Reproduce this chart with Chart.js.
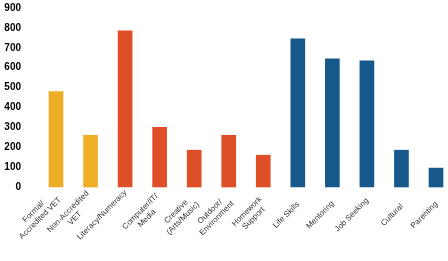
<!DOCTYPE html>
<html>
<head>
<meta charset="utf-8">
<script src="https://cdn.jsdelivr.net/npm/chart.js@4/dist/chart.umd.min.js"></script>
<style>
  html, body { margin: 0; padding: 0; background: #fff; overflow: hidden; }
  #wrap { width: 448px; height: 261px; position: relative; }
</style>
</head>
<body>
<div id="wrap"><canvas id="programChart"></canvas></div>
<script>
/* ---- data ---- */
const categories = [
  ['Formal/', 'Accredited VET'],
  ['Non-Accredited', 'VET'],
  ['Literacy/Numeracy'],
  ['Computer/IT/', 'Media'],
  ['Creative', '(Arts/Music)'],
  ['Outdoor/', 'Environment'],
  ['Homework', 'Support'],
  ['Life Skills'],
  ['Mentoring'],
  ['Job Seeking'],
  ['Cultural'],
  ['Parenting']
];
const values = [480, 260, 785, 300, 185, 260, 160, 745, 645, 635, 185, 95];
const groupOf = [0, 0, 1, 1, 1, 1, 1, 2, 2, 2, 2, 2];
const yTicks = [0, 100, 200, 300, 400, 500, 600, 700, 800, 900];

/* ---- styling ---- */
const groupColors = ['#EEAE27', '#DE4E27', '#16588B'];
const FONT = "Helvetica, Arial, 'Liberation Sans', sans-serif";

/* rotated, centred multi-line category labels */
const slantLabels = {
  id: 'slantLabels',
  afterDraw(chart) {
    const ctx = chart.ctx;
    const xs = chart.scales.x;
    const area = chart.chartArea;
    const lh = 9.5;
    ctx.save();
    ctx.font = '8px ' + FONT;
    ctx.fillStyle = '#333';
    ctx.textAlign = 'center';
    ctx.textBaseline = 'middle';
    categories.forEach((lines, i) => {
      const W = Math.max(...lines.map(l => ctx.measureText(l).width));
      const n = lines.length;
      const px = xs.getPixelForValue(i) + 0.5;
      const py = area.bottom + 28 - 0.354 * W;
      ctx.save();
      ctx.translate(px, py);
      ctx.rotate(-Math.PI / 4);
      lines.forEach((l, j) => {
        ctx.fillText(l, -W / 2, (j - (n - 1) / 2) * lh);
      });
      ctx.restore();
    });
    ctx.restore();
  }
};

new Chart(document.getElementById('programChart'), {
  type: 'bar',
  data: {
    labels: categories,
    datasets: [{
      data: values,
      backgroundColor: groupOf.map(g => groupColors[g]),
      barThickness: 14,
      clip: false
    }]
  },
  options: {
    responsive: true,
    maintainAspectRatio: false,
    animation: false,
    layout: { padding: { top: 8, right: 12, bottom: 74, left: 0 } },
    plugins: { legend: { display: false }, tooltip: { enabled: false } },
    scales: {
      x: {
        display: false,
        offset: false
      },
      y: {
        min: 0,
        max: 900,
        afterFit(scale) {
          scale.width = 56;
          scale.paddingTop = 0;      // big tick padding would otherwise push the area down
          scale.paddingBottom = 0;
        },
        afterBuildTicks(scale) { scale.ticks = yTicks.map(v => ({ value: v })); },
        grid: { display: false, drawTicks: false },
        border: { display: false },
        ticks: {
          padding: 35,
          color: '#000',
          font: { family: FONT, size: 10, weight: 'bold' }
        }
      }
    }
  },
  plugins: [slantLabels]
});
</script>
</body>
</html>
